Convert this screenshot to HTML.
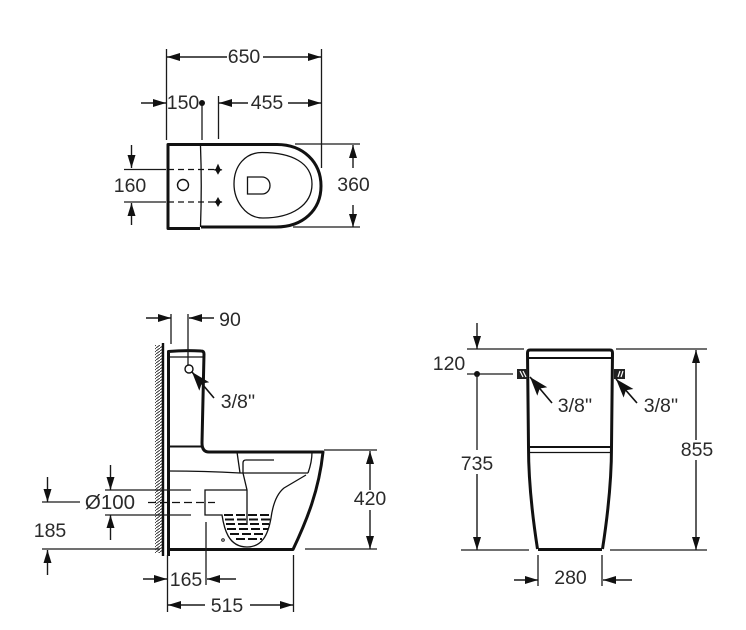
<!DOCTYPE html>
<html><head><meta charset="utf-8"><style>
html,body{margin:0;padding:0;background:#fff}
svg{display:block}
text{font-family:"Liberation Sans",sans-serif;font-size:19.500px;fill:#2a2a2a;text-anchor:middle}
.d{stroke:#1a1a1a;stroke-width:1.300;fill:none}
.a{stroke:#1a1a1a;stroke-width:1.400;fill:none;marker-end:url(#m)}
.k{stroke:#111;stroke-width:3;fill:none;stroke-linejoin:round}
.t{stroke:#111;stroke-width:1.300;fill:none}
.b{stroke:#111;stroke-width:2;fill:none}
.w{stroke:#111;stroke-width:2;fill:none;stroke-dasharray:9 3}
</style></head><body>
<svg width="746" height="630" viewBox="0 0 746 630" xmlns="http://www.w3.org/2000/svg">
<defs>
<marker id="m" markerUnits="userSpaceOnUse" markerWidth="14" markerHeight="10" refX="13" refY="4" orient="auto"><path d="M0 0L13 4L0 8Z" fill="#111"/></marker>
<marker id="f" markerUnits="userSpaceOnUse" markerWidth="20" markerHeight="14" refX="19" refY="6.500" orient="auto"><path d="M0 0L19 6.500L0 13L4 6.500Z" fill="#111"/></marker>
<pattern id="h" width="4" height="3" patternUnits="userSpaceOnUse"><path d="M0 3L4 0" stroke="#333" stroke-width="1"/></pattern>
</defs>

<!-- TOP VIEW -->
<path class="d" d="M166.500 49V140M321.500 49V168M202 103V140M218.500 96V139"/>
<path class="a" d="M227 57H167"/><path class="a" d="M263 57H321"/>
<text x="244" y="63">650</text>
<path class="a" d="M141 103H166"/><text x="183" y="109">150</text>
<circle cx="202" cy="103" r="3" fill="#111"/>
<path class="a" d="M248 103H219"/><text x="267" y="109">455</text><path class="a" d="M288 103H321"/>
<path class="k" stroke-width="3.400" d="M202 144.500H168V228.500H200"/>
<path class="t" stroke-width="1.500" d="M200.500 146Q202 185 200.500 227"/>
<path class="k" stroke-width="2.600" d="M201 144.500H277C303 144.500 321 162 321 186C321 210 303 227 276 227H201"/>
<path class="t" d="M262 152.500C292 152.500 312 163 312 184C312 205 292 218 263 218C245 218 234 200 234 184C234 166 245 152.500 262 152.500Z"/>
<path class="t" stroke-width="1.500" d="M247.500 177H262C267 177 270 181 270 185.500C270 190 267 194 262 194H247.500Z"/>
<circle cx="183" cy="185" r="5.500" fill="#fff" stroke="#111" stroke-width="1.400"/>
<path class="d" d="M124 169.500H166M124 202H166"/>
<path d="M168 169.500H214M168 202H214" stroke="#111" stroke-width="1.200" stroke-dasharray="6 4" fill="none"/>
<path d="M218 165L220 169.500L222 170L220 170.500L218 174L216 170.500L214 170L216 169.500Z" fill="#111" stroke="#111" transform="translate(0 -.2)"/>
<path d="M218 198L220 201.500L222 202L220 202.500L218 206L216 202.500L214 202L216 201.500Z" fill="#111" stroke="#111"/>
<path class="a" d="M131.500 145V168"/><path class="a" d="M131.500 225V203"/>
<text x="130" y="192">160</text>
<path class="d" d="M295 144H360M293 227H360"/>
<path class="a" d="M353 168V145"/><path class="a" d="M353 205V227"/>
<text x="353.500" y="191">360</text>

<!-- SIDE VIEW -->
<rect x="155" y="345" width="7" height="208" fill="url(#h)"/>
<path d="M163 343V556" stroke="#111" stroke-width="2.400"/>
<path class="k" d="M168.500 556V351.500Q185 350 201 351Q204 351 204 354L202 443Q202 452 209 452H323C319 490 307 520 293 549.500H168.500" stroke-width="3"/>
<path class="t" stroke-width="1.500" d="M169 357H203"/>
<path class="b" stroke-width="2.200" d="M169 446.500H201"/>
<path class="t" d="M168 471Q205 471 240 473H308"/>
<path class="t" d="M237 452L240 473M312 452Q312 462 308 473"/>
<path class="t" stroke-width="1.500" d="M274 460H246Q243 460 243 463V473L247 490V525"/>
<path class="t" stroke-width="1.500" d="M247 490H205V515H222C224 528 228 547 247 547C262 547 268 535 271 518Q274 496 284 488L306 475"/>
<path class="w" d="M224 515H270"/><path class="w" d="M225 519.500H271"/><path class="w" d="M226 524H269"/><path class="w" d="M227 529H268"/><path class="w" d="M230 534H266"/><path class="w" d="M236 539H262"/>
<circle cx="223" cy="540" r="1.300" fill="#fff" stroke="#111"/>
<path class="d" d="M171 314V344M188 314V365"/>
<path class="a" d="M146 318H171"/><path class="a" d="M214 318H189"/>
<text x="230" y="326">90</text>
<circle cx="189" cy="369" r="4" fill="#fff" stroke="#111" stroke-width="1.400"/>
<path d="M214 398L192 372" stroke="#111" stroke-width="1.600" marker-end="url(#f)"/>
<text x="238" y="408">3/8''</text>
<path class="d" d="M105 490H191M105 515H191M42 502H80M42 549H160"/>
<path d="M148 502.500H215" stroke="#111" stroke-width="1.300" stroke-dasharray="8 4" fill="none"/>
<path class="a" d="M110.500 465V490"/><path class="a" d="M110.500 540V515"/>
<path class="a" d="M47.500 477V502"/><path class="a" d="M47.500 575V550"/>
<text x="110" y="509" style="font-size:20.500px">Ø100</text>
<text x="50" y="537">185</text>
<path class="d" d="M167.500 555V612M206 522V585M293.500 555V612"/>
<path class="a" d="M143 579H167"/><path class="a" d="M236 579H207"/>
<text x="186" y="586">165</text>
<path class="a" d="M205 605H168"/><path class="a" d="M250 605H293"/>
<text x="227" y="612">515</text>
<path class="d" d="M324 450H377M305 549H377"/>
<path class="a" d="M370 490V451"/><path class="a" d="M370 510V549"/>
<text x="370" y="505">420</text>

<!-- FRONT VIEW -->
<path class="k" d="M538 549.500H602"/>
<path class="k" stroke-width="2.600" d="M537.500 549C533 520 528.500 480 528.500 447L527.500 353Q527.500 350 530 350H610Q612.500 350 612.500 353L611.500 447C611.500 480 607 520 602.500 549"/>
<path class="b" stroke-width="2.200" d="M528 358H612M529 447H611"/>
<path class="t" stroke-width="1.500" d="M530 452.500H610"/>
<rect x="517" y="369" width="11" height="10" fill="#222"/>
<rect x="614" y="369" width="11" height="10" fill="#222"/>
<path d="M520 371L523 377M523 371L526 377M618 377L620 371M621 377L623 371" stroke="#fff" stroke-width="1.200"/>
<path class="d" d="M467 349H524M467 374H513M461 550H529M616 349H707M610 550H707"/>
<path class="a" d="M477 323V349"/>
<circle cx="477" cy="374" r="3" fill="#111"/>
<path class="d" d="M477 374V450"/>
<path class="a" d="M477 474V550"/>
<text x="449" y="370">120</text>
<text x="477" y="470">735</text>
<path class="a" d="M696 440V350"/><path class="a" d="M696 460V550"/>
<text x="697" y="456">855</text>
<path d="M552 403L530 377" stroke="#111" stroke-width="1.600" marker-end="url(#f)"/>
<path d="M637 403L616 379" stroke="#111" stroke-width="1.600" marker-end="url(#f)"/>
<text x="575" y="412">3/8''</text>
<text x="661" y="412">3/8''</text>
<path class="d" d="M538 555V586M602 555V586"/>
<path class="a" d="M514 580H538"/><path class="a" d="M632 580H603"/>
<text x="570.500" y="584">280</text>
</svg>
</body></html>
